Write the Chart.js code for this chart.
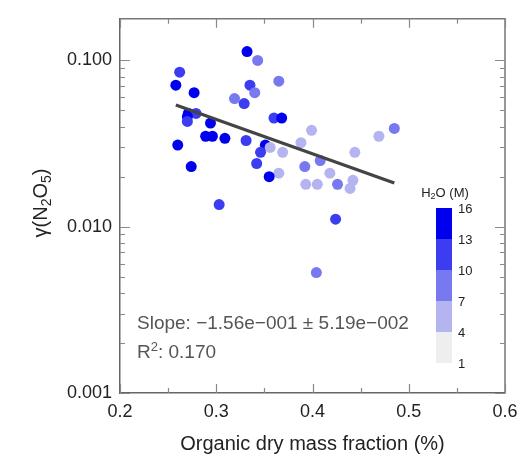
<!DOCTYPE html>
<html>
<head>
<meta charset="utf-8">
<script src="https://cdn.jsdelivr.net/npm/chart.js@4.4.0/dist/chart.umd.min.js"></script>
<style>
  html, body { margin: 0; padding: 0; background: #fff; }
  #wrap { width: 520px; height: 468px; }
</style>
</head>
<body>
<div id="wrap"><canvas id="gammaChart" width="520" height="468"></canvas></div>
<script>
// organic dry mass fraction (x) vs gamma(N2O5) (y), coloured by H2O (M)
const orgFraction = [
  0.332, 0.343, 0.262, 0.258, 0.335, 0.365, 0.340, 0.277, 0.319, 0.329,
  0.271, 0.279, 0.270, 0.270, 0.294, 0.360, 0.368, 0.399, 0.289, 0.296,
  0.309, 0.331, 0.388, 0.260, 0.351, 0.356, 0.369, 0.346, 0.408, 0.392,
  0.342, 0.274, 0.365, 0.355, 0.393, 0.405, 0.303, 0.469, 0.485, 0.444,
  0.418, 0.442, 0.426, 0.439, 0.424, 0.404
];
const gammaN2O5 = [
  0.113, 0.100, 0.085, 0.071, 0.071, 0.075, 0.064, 0.064, 0.059, 0.055,
  0.048, 0.048, 0.046, 0.043, 0.042, 0.045, 0.045, 0.038, 0.035, 0.035,
  0.034, 0.033, 0.032, 0.031, 0.031, 0.030, 0.028, 0.028, 0.025, 0.023,
  0.024, 0.023, 0.021, 0.020, 0.018, 0.018, 0.0136, 0.035, 0.039, 0.028,
  0.021, 0.019, 0.018, 0.017, 0.0111, 0.0053
];
const waterM = [
  14.5, 8.5, 11.5, 14.5, 11.5, 8.5, 8.5, 14.5, 8.5, 11.5,
  14.5, 11.5, 14.5, 11.5, 14.5, 11.5, 14.5, 5.5, 14.5, 14.5,
  14.5, 11.5, 5.5, 14.5, 14.5, 5.5, 5.5, 11.5, 8.5, 8.5,
  11.5, 14.5, 5.5, 14.5, 5.5, 5.5, 11.5, 5.5, 8.5, 5.5,
  5.5, 5.5, 8.5, 5.5, 11.5, 8.5
];
// regression line end points
const fitX = [0.258, 0.485];
const fitY = [0.054, 0.0183];

const h2oLevels = [1, 4, 7, 10, 13, 16];
const h2oColors = ["#eeeeee", "#b4b4f0", "#7878f0", "#3c3cf0", "#0000ee"];
const xTicks = [0.2, 0.25, 0.3, 0.35, 0.4, 0.45, 0.5, 0.55, 0.6];
const yDecades = [0.001, 0.01, 0.1];

const FONT = "'Liberation Sans', Arial, Helvetica, sans-serif";

function h2oColor(v) {
  for (let i = 0; i < h2oColors.length; i++) {
    if (v >= h2oLevels[i] && v < h2oLevels[i + 1]) return h2oColors[i];
  }
  return h2oColors[h2oColors.length - 1];
}

function yTickValues() {
  const out = [];
  yDecades.forEach((d) => {
    for (let m = 1; m <= 9; m++) {
      if (d * m <= 0.178) out.push(+(d * m).toPrecision(3));
    }
  });
  return out;
}

function isDecade(v) {
  return yDecades.some((d) => Math.abs(v - d) < d * 1e-6);
}

// draws text made of [string, shift] pieces; shift 1 = subscript, -1 = superscript
function drawRich(ctx, parts, x, y, size, align) {
  const small = Math.round(size * 0.68);
  let w = 0;
  parts.forEach(([t, s]) => {
    ctx.font = (s ? small : size) + "px " + FONT;
    w += ctx.measureText(t).width;
  });
  let cx = align === "center" ? x - w / 2 : x;
  ctx.textAlign = "left";
  ctx.textBaseline = "middle";
  parts.forEach(([t, s]) => {
    ctx.font = (s ? small : size) + "px " + FONT;
    const dy = s === 1 ? size * 0.3 : s === -1 ? -size * 0.3 : 0;
    ctx.fillText(t, cx, y + dy);
    cx += ctx.measureText(t).width;
  });
}

const decorPlugin = {
  id: "decor",
  afterDraw(chart) {
    const { ctx, chartArea: a, scales } = chart;
    const xs = scales.x, ys = scales.y;
    ctx.save();

    // box: top and right sides
    ctx.strokeStyle = "#777";
    ctx.lineWidth = 1.5;
    ctx.beginPath();
    ctx.moveTo(a.left, a.top);
    ctx.lineTo(a.right, a.top);
    ctx.lineTo(a.right, a.bottom);
    ctx.stroke();

    // inward ticks
    ctx.strokeStyle = "#888";
    ctx.lineWidth = 1.2;
    ys.ticks.forEach((t) => {
      const py = Math.round(ys.getPixelForValue(t.value)) + 0.5;
      const len = isDecade(t.value) ? 10 : 5;
      ctx.beginPath();
      ctx.moveTo(a.left, py); ctx.lineTo(a.left + len, py);
      ctx.moveTo(a.right, py); ctx.lineTo(a.right - len, py);
      ctx.stroke();
    });
    xs.ticks.forEach((t) => {
      const px = Math.round(xs.getPixelForValue(t.value)) + 0.5;
      const major = Math.abs(t.value * 10 - Math.round(t.value * 10)) < 1e-6;
      const len = major ? 9 : 5;
      ctx.beginPath();
      ctx.moveTo(px, a.bottom); ctx.lineTo(px, a.bottom - len);
      ctx.moveTo(px, a.top); ctx.lineTo(px, a.top + len);
      ctx.stroke();
    });

    // y title
    ctx.fillStyle = "#222";
    ctx.save();
    ctx.translate(41, 203);
    ctx.rotate(-Math.PI / 2);
    drawRich(ctx, [["\u03b3(N", 0], ["2", 1], ["O", 0], ["5", 1], [")", 0]], 0, 0, 20, "center");
    ctx.restore();

    // fit statistics
    ctx.fillStyle = "#555";
    ctx.font = "19px " + FONT;
    ctx.textAlign = "left";
    ctx.textBaseline = "middle";
    ctx.fillText("Slope: \u22121.56e\u2212001 \u00b1 5.19e\u2212002", 137, 324);
    drawRich(ctx, [["R", 0], ["2", -1], [": 0.170", 0]], 137, 353, 19, "left");

    // colour bar
    const cbX = 436, cbW = 16, cbTop = 208, band = 31;
    const n = h2oColors.length;
    for (let i = 0; i < n; i++) {
      ctx.fillStyle = h2oColors[n - 1 - i];
      ctx.fillRect(cbX, cbTop + i * band, cbW, band);
    }
    ctx.fillStyle = "#222";
    ctx.font = "13px " + FONT;
    for (let i = 0; i < h2oLevels.length; i++) {
      const lv = h2oLevels[h2oLevels.length - 1 - i];
      ctx.fillText(String(lv), cbX + cbW + 6, cbTop + i * band + 1);
    }
    drawRich(ctx, [["H", 0], ["2", 1], ["O (M)", 0]], 445, 193, 13, "center");

    ctx.restore();
  },
};

const ctx = document.getElementById("gammaChart").getContext("2d");
const gammaChart = new Chart(ctx, {
  type: "scatter",
  data: {
    datasets: [
      {
        type: "line",
        label: "fit",
        data: fitX.map((x, i) => ({ x: x, y: fitY[i] })),
        borderColor: "#444444",
        borderWidth: 3.2,
        pointRadius: 0,
        fill: false,
      },
      {
        label: "gamma",
        data: orgFraction.map((x, i) => ({ x: x, y: gammaN2O5[i] })),
        backgroundColor: waterM.map(h2oColor),
        borderWidth: 0,
        pointRadius: 5.5,
      },
    ],
  },
  options: {
    responsive: false,
    animation: false,
    layout: { padding: { top: 7, right: 15, left: 0, bottom: 0 } },
    plugins: {
      legend: { display: false },
      tooltip: { enabled: false },
    },
    scales: {
      x: {
        type: "linear",
        min: 0.2,
        max: 0.6,
        afterBuildTicks: (s) => {
          s.ticks = xTicks.map((v) => ({ value: v }));
        },
        afterFit: (s) => {
          s.height = 75;
          s.paddingLeft = 0;
          s.paddingRight = 0;
        },
        ticks: {
          autoSkip: false,
          maxRotation: 0,
          padding: 8,
          color: "#222",
          font: { size: 18, family: FONT },
          callback: (v) =>
            Math.abs(v * 10 - Math.round(v * 10)) < 1e-6 ? v.toFixed(1) : "",
        },
        grid: { display: false, drawTicks: false },
        border: { display: true, color: "#666", width: 1.5 },
        title: {
          display: true,
          text: "Organic dry mass fraction (%)",
          color: "#222",
          font: { size: 20, family: FONT },
          padding: { top: 0, bottom: 12 },
        },
      },
      y: {
        type: "logarithmic",
        min: 0.001,
        max: 0.178,
        afterBuildTicks: (s) => {
          s.ticks = yTickValues().map((v) => ({ value: v }));
        },
        afterFit: (s) => {
          s.width = 120;
        },
        ticks: {
          autoSkip: false,
          padding: 8,
          color: "#222",
          font: { size: 18, family: FONT },
          callback: (v) => (isDecade(v) ? v.toFixed(3) : ""),
        },
        grid: { display: false, drawTicks: false },
        border: { display: true, color: "#666", width: 1.5 },
      },
    },
  },
  plugins: [decorPlugin],
});
</script>
</body>
</html>
